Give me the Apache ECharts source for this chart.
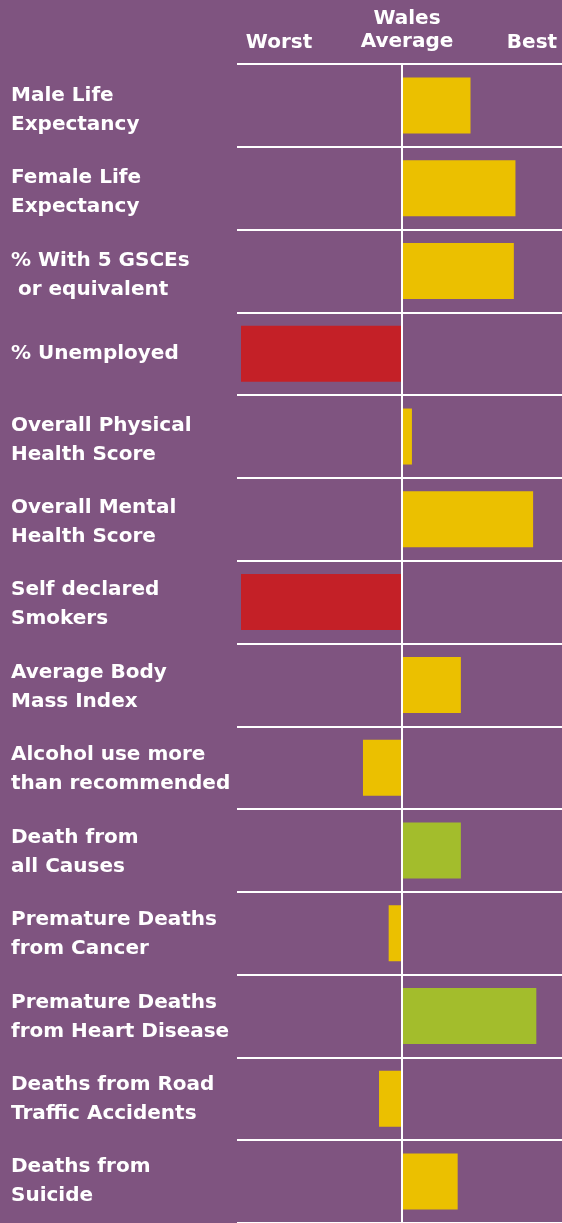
<!DOCTYPE html>
<html>
  <head>
    <meta charset="utf-8">
    <title>Wales Average</title>
    <style>
        *{
            padding: 0;
            margin: 0;
        }
        body{
            width: 562px;
            height: 1223px;
            background-color: #7f5480;
        }
        #chart{
            width: 562px;
            height: 1223px;
        }
    </style>
  </head>
  <body>
    <div id="chart"></div>
    <script type="text/javascript" src="https://cdn.jsdelivr.net/npm/echarts@6/dist/echarts.min.js"></script>
    <script type="text/javascript">
        // indicators, top to bottom
        var categories = [
            'Male Life\nExpectancy',
            'Female Life\nExpectancy',
            '% With 5 GSCEs\n or equivalent',
            '% Unemployed',
            'Overall Physical\nHealth Score',
            'Overall Mental\nHealth Score',
            'Self declared\nSmokers',
            'Average Body\nMass Index',
            'Alcohol use more\nthan recommended',
            'Death from\nall Causes',
            'Premature Deaths\nfrom Cancer',
            'Premature Deaths\nfrom Heart Disease',
            'Deaths from Road\nTraffic Accidents',
            'Deaths from\nSuicide'
        ];
        // -1 = worst in Wales, 0 = Wales average, 1 = best
        var values = [0.43, 0.71, 0.70, -1, 0.065, 0.82, -1, 0.37, -0.24, 0.37, -0.08, 0.84, -0.14, 0.35];
        var ratings = ['amber', 'amber', 'amber', 'red', 'amber', 'amber', 'red', 'amber', 'amber', 'green', 'amber', 'green', 'amber', 'amber'];
        var headers = ['Worst', 'Wales\nAverage', 'Best'];

        var ratingColors = { red: '#c42027', amber: '#ebc000', green: '#a3bd2c' };
        var font = 'DejaVu Sans';

        var barData = values.map(function (v, i) {
            return { value: v, itemStyle: { color: ratingColors[ratings[i]] } };
        });

        function labelOpts(multi) {
            return {
                align: 'left',
                margin: 226,
                color: '#ffffff',
                fontFamily: font,
                fontWeight: 'bold',
                fontSize: 20,
                lineHeight: 29,
                formatter: function (v) {
                    return (v.indexOf('\n') >= 0) === multi ? v : '';
                }
            };
        }

        var myChart = echarts.init(document.getElementById('chart'));
        var option = {
            backgroundColor: '#7f5480',
            animation: false,
            // grid 1 holds the bars, grid 2 (a few px lower) only carries the two-line labels
            grid: [
                { left: 237, right: 0, top: 64, height: 1162 },
                { left: 237, right: 0, top: 69, height: 1162 }
            ],
            xAxis: [
                { type: 'value', min: -164.5 / 160.5, max: 1, show: false },
                { type: 'value', gridIndex: 1, show: false }
            ],
            yAxis: [
                {
                    type: 'category',
                    inverse: true,
                    data: categories,
                    axisLine: { show: false },
                    axisTick: { show: false },
                    splitLine: { show: true, lineStyle: { color: '#ffffff', width: 2 } },
                    axisLabel: labelOpts(false)
                },
                {
                    type: 'category',
                    gridIndex: 1,
                    inverse: true,
                    data: categories,
                    axisLine: { show: false },
                    axisTick: { show: false },
                    splitLine: { show: false },
                    axisLabel: labelOpts(true)
                }
            ],
            graphic: [
                { type: 'text', x: 279, y: 53, style: { text: headers[0], fill: '#fff', font: 'bold 20px ' + font, align: 'center', verticalAlign: 'bottom' } },
                { type: 'text', x: 407, y: 53, style: { text: headers[1], fill: '#fff', font: 'bold 20px ' + font, align: 'center', verticalAlign: 'bottom', lineHeight: 23 } },
                { type: 'text', x: 532, y: 53, style: { text: headers[2], fill: '#fff', font: 'bold 20px ' + font, align: 'center', verticalAlign: 'bottom' } }
            ],
            series: [{
                type: 'bar',
                data: barData,
                barWidth: 56,
                markLine: {
                    silent: true,
                    symbol: 'none',
                    label: { show: false },
                    lineStyle: { color: '#ffffff', width: 2, type: 'solid' },
                    data: [{ xAxis: 0 }]
                }
            }]
        };
        myChart.setOption(option);
    </script>
  </body>
</html>
